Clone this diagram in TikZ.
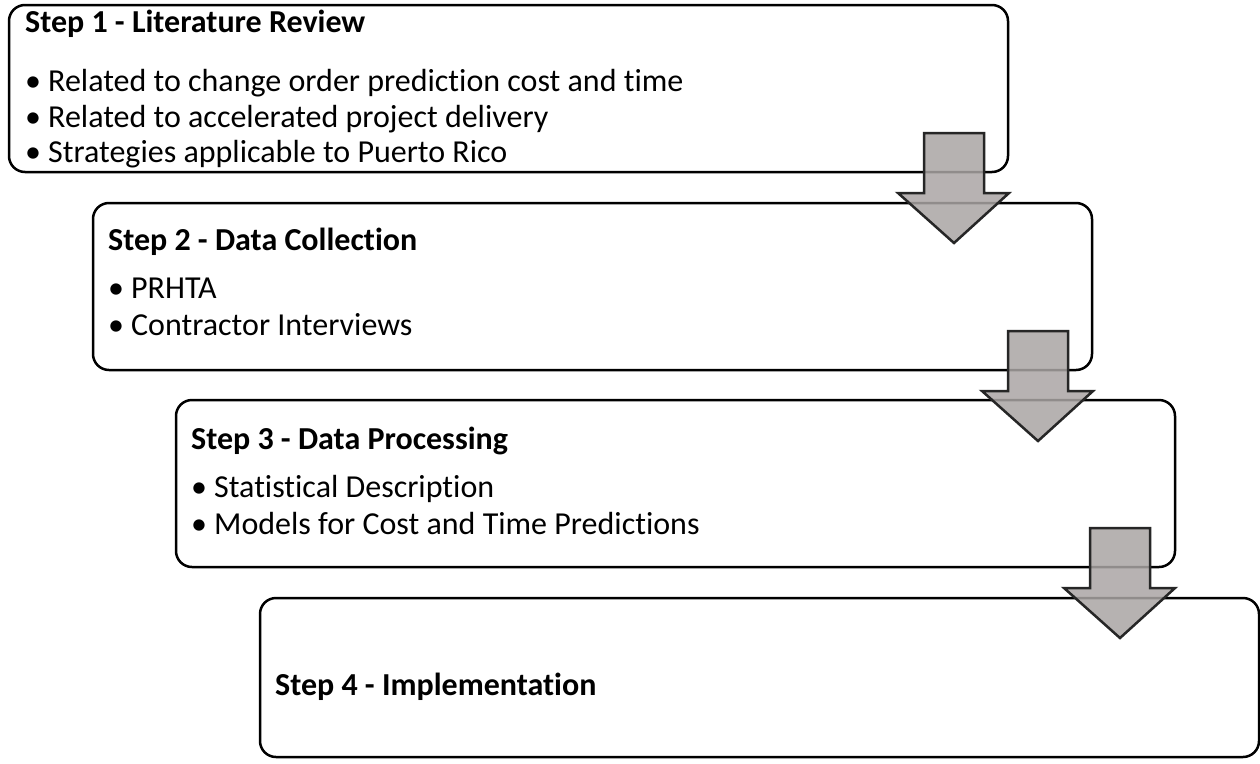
\documentclass[tikz,border=0pt]{standalone}
\usepackage{fontspec}
\setmainfont{Carlito}[Ligatures={NoCommon}]
\begin{document}
\begin{tikzpicture}[x=1pt,y=-1pt,
  box/.style={draw=black, line width=2.5pt, rounded corners=16pt, fill=white,
    minimum width=999pt, minimum height=167pt, anchor=north west, inner sep=0pt, outer sep=0pt},
  ttl/.style={anchor=base west, inner sep=0pt, font=\fontsize{32}{38}\selectfont\bfseries},
  itm/.style={anchor=base west, inner sep=0pt, font=\fontsize{32}{38}\selectfont},
  darrow/.style={draw=black!85, line width=2.5pt, line join=miter, fill={rgb,255:red,170;green,165;blue,164}, fill opacity=0.85}
]
\useasboundingbox (0,0) rectangle (1260,763);
% boxes
\node[box] (b1) at (9,5) {};
\node[box] (b2) at (93,203) {};
\node[box] (b3) at (176,400) {};
\node[box, minimum height=159pt] (b4) at (260,598) {};
% arrows
\newcommand{\downarr}[2]{%
  \draw[darrow] (#1-30,#2) -- (#1+30,#2) -- (#1+30,#2+60) -- (#1+55,#2+60)
    -- (#1,#2+110) -- (#1-56,#2+60) -- (#1-30,#2+60) -- cycle;}
\downarr{954}{133}
\downarr{1038}{331}
\downarr{1120}{528}
% texts
\node[ttl] (t1) at (25,32) {Step 1 - Literature Review};
\node[itm] (t1a) at (25,91) {\makebox[23pt][l]{•}Related to change order prediction cost and time};
\node[itm] (t1b) at (25,127) {\makebox[23pt][l]{•}Related to accelerated project delivery};
\node[itm] (t1c) at (25,162) {\makebox[23pt][l]{•}Strategies applicable to Puerto Rico};
\node[ttl] (t2) at (108,250) {Step 2 - Data Collection};
\node[itm] (t2a) at (108,298) {\makebox[23pt][l]{•}PRHTA};
\node[itm] (t2b) at (108,335) {\makebox[23pt][l]{•}Contractor Interviews};
\node[ttl] (t3) at (191,449) {Step 3 - Data Processing};
\node[itm] (t3a) at (191,497) {\makebox[23pt][l]{•}Statistical Description};
\node[itm] (t3b) at (191,534) {\makebox[23pt][l]{•}Models for Cost and Time Predictions};
\node[ttl] (t4) at (275,695) {Step 4 - Implementation};
\end{tikzpicture}
\end{document}
